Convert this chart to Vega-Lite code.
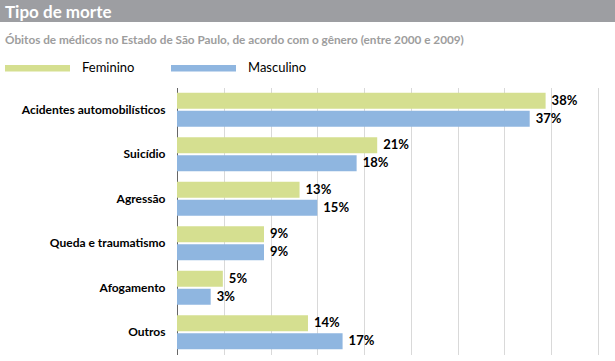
{
  "$schema": "https://vega.github.io/schema/vega-lite/v6.json",
  "padding": 0,
  "autosize": {"type": "pad"},
  "spacing": 8.5,
  "resolve": {"legend": {"color": "independent"}},
  "config": {"view": {"stroke": null}, "font": "Lato"},
  "vconcat": [
    {
      "width": 615,
      "height": 22,
      "view": {"fill": "#9d9ea2", "stroke": null},
      "title": {"text": "Tipo de morte", "anchor": "start", "frame": "group", "orient": "top", "offset": -22, "dx": 5, "baseline": "top", "color": "#ffffff", "font": "Lato", "fontSize": 17, "fontWeight": "bold"},
      "data": {"values": []},
      "mark": {"type": "point", "opacity": 0},
      "encoding": {}
    },
    {
      "width": 615,
      "height": 267,
      "title": {"text": "Óbitos de médicos no Estado de São Paulo, de acordo com o gênero (entre 2000 e 2009)", "anchor": "start", "frame": "group", "orient": "top", "offset": -16, "dx": 5, "baseline": "top", "color": "#9d9d9d", "font": "Lato", "fontSize": 11.75, "fontWeight": "bold"},
      "data": {"values": [
        {"tipo": "Acidentes automobilísticos", "genero": "Feminino", "valor": 39.4, "rotulo": "38%"},
        {"tipo": "Acidentes automobilísticos", "genero": "Masculino", "valor": 37.7, "rotulo": "37%"},
        {"tipo": "Suicídio", "genero": "Feminino", "valor": 21.4, "rotulo": "21%"},
        {"tipo": "Suicídio", "genero": "Masculino", "valor": 19.2, "rotulo": "18%"},
        {"tipo": "Agressão", "genero": "Feminino", "valor": 13.1, "rotulo": "13%"},
        {"tipo": "Agressão", "genero": "Masculino", "valor": 15.0, "rotulo": "15%"},
        {"tipo": "Queda e traumatismo", "genero": "Feminino", "valor": 9.3, "rotulo": "9%"},
        {"tipo": "Queda e traumatismo", "genero": "Masculino", "valor": 9.3, "rotulo": "9%"},
        {"tipo": "Afogamento", "genero": "Feminino", "valor": 4.9, "rotulo": "5%"},
        {"tipo": "Afogamento", "genero": "Masculino", "valor": 3.6, "rotulo": "3%"},
        {"tipo": "Outros", "genero": "Feminino", "valor": 14.0, "rotulo": "14%"},
        {"tipo": "Outros", "genero": "Masculino", "valor": 17.7, "rotulo": "17%"}
      ]},
      "encoding": {
        "y": {
          "field": "tipo", "type": "nominal",
          "sort": ["Acidentes automobilísticos", "Suicídio", "Agressão", "Queda e traumatismo", "Afogamento", "Outros"],
          "scale": {"paddingInner": 0.236, "paddingOuter": 0.118},
          "axis": {"title": null, "offset": -177, "ticks": false, "tickSize": 0, "labelPadding": 12, "labelFont": "Lato", "labelFontSize": 12, "labelFontWeight": "bold", "labelColor": "#000000", "labelLimit": 0, "domainColor": "#666666", "domainWidth": 1, "grid": false}
        },
        "yOffset": {"field": "genero", "type": "nominal", "sort": ["Feminino", "Masculino"], "scale": {"paddingInner": 0.1, "paddingOuter": 0}},
        "x": {
          "field": "valor", "type": "quantitative",
          "scale": {"domain": [0, 45], "nice": false, "range": [177, 598]},
          "axis": {"title": null, "labels": false, "ticks": false, "domain": false, "grid": true, "values": [5, 10, 15, 20, 25, 30, 35, 40, 45], "gridColor": "#d9d9d9", "gridWidth": 1}
        }
      },
      "layer": [
        {
          "mark": {"type": "bar"},
          "encoding": {
            "color": {
              "field": "genero", "type": "nominal",
              "scale": {"domain": ["Feminino", "Masculino"], "range": ["#d5df90", "#8fb6e0"]},
              "legend": {
                "title": null, "orient": "top", "offset": 7, "padding": 5,
                "direction": "horizontal", "columnPadding": 36,
                "symbolType": "M-1,-0.1L1,-0.1L1,0.1L-1,0.1Z", "symbolSize": 4225, "symbolStrokeWidth": 0, "symbolOpacity": 1,
                "labelOffset": 12, "labelFont": "Lato", "labelFontSize": 13, "labelColor": "#000000"
              }
            }
          }
        },
        {
          "mark": {"type": "text", "align": "left", "baseline": "middle", "dx": 6, "font": "Lato", "fontSize": 13, "fontWeight": "bold", "color": "#000000"},
          "encoding": {"text": {"field": "rotulo", "type": "nominal"}}
        }
      ]
    }
  ]
}
